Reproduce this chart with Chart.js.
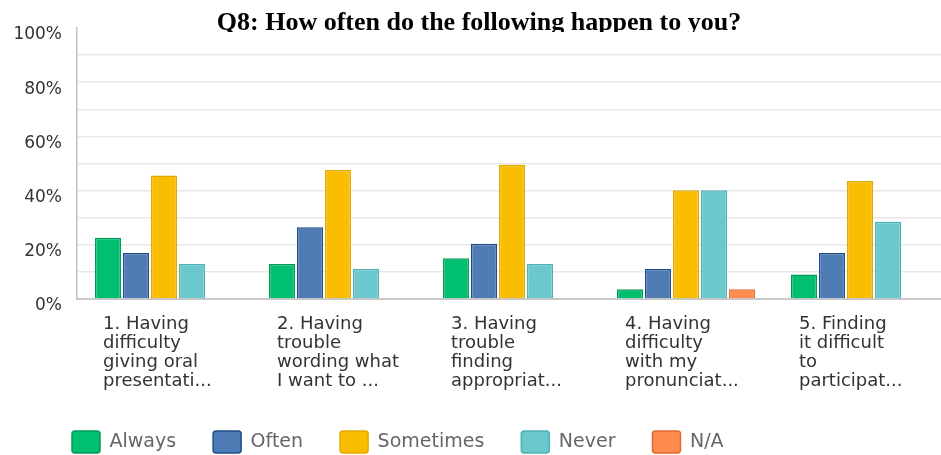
<!DOCTYPE html>
<html>
<head>
<meta charset="utf-8">
<script src="https://cdn.jsdelivr.net/npm/chart.js@4.4.1/dist/chart.umd.min.js"></script>
<style>
  html, body { margin: 0; padding: 0; background: #fff; overflow: hidden; }
  #wrap { position: relative; width: 947px; height: 455px; }
</style>
</head>
<body>
<div id="wrap"><canvas id="graph1"></canvas></div>
<script>
const titleText = 'Q8: How often do the following happen to you?';

const categories = [
    ['1. Having', 'difficulty', 'giving oral', 'presentati...'],
    ['2. Having', 'trouble', 'wording what', 'I want to ...'],
    ['3. Having', 'trouble', 'finding', 'appropriat...'],
    ['4. Having', 'difficulty', 'with my', 'pronunciat...'],
    ['5. Finding', 'it difficult', 'to', 'participat...']
];

const always = [22.6, 12.9, 15.0, 3.6, 9.0];
const often = [17.0, 26.5, 20.4, 11.1, 17.0];
const sometimes = [45.6, 47.6, 49.5, 40.1, 43.5];
const never = [12.9, 11.1, 12.9, 40.1, 28.5];
const na = [0, 0, 0, 3.6, 0];

const yTicks = [0, 20, 40, 60, 80, 100];

// title sits on top of the plot, cut off at the bottom like the original
const titleDraw = {
    id: 'titleDraw',
    afterLayout(chart) {
        // legend starts a bit right of the canvas edge
        chart.legend.left = 35;
    },
    afterDraw(chart) {
        const ctx = chart.ctx;
        ctx.save();
        ctx.beginPath();
        ctx.rect(0, 0, chart.width, 32);
        ctx.clip();
        ctx.font = 'bold 26px "Liberation Serif", "Times New Roman", serif';
        ctx.fillStyle = '#000';
        ctx.textAlign = 'center';
        ctx.textBaseline = 'alphabetic';
        ctx.fillText(titleText, 479, 30);
        ctx.restore();
    }
};

function set(label, data, bg, border) {
    return {
        label: label,
        data: data,
        backgroundColor: bg,
        borderColor: border,
        borderWidth: 1.5,
        categoryPercentage: 0.805,
        barPercentage: 0.93
    };
}

new Chart(document.getElementById('graph1'), {
    type: 'bar',
    data: {
        labels: categories,
        datasets: [
            set('Always', always, '#00BF6F', '#009a58'),
            set('Often', often, '#507CB6', '#1f4d8c'),
            set('Sometimes', sometimes, '#F9BE00', '#e2aa00'),
            set('Never', never, '#6BC8CD', '#4db2b7'),
            set('N/A', na, '#FF8B4F', '#e0692c')
        ]
    },
    plugins: [titleDraw],
    options: {
        responsive: true,
        maintainAspectRatio: false,
        animation: false,
        layout: {
            padding: { left: 2, right: 0, top: 28, bottom: 0 }
        },
        scales: {
            x: {
                grid: { display: false, drawTicks: false },
                border: { display: true, color: '#c8c8c8', width: 2 },
                ticks: {
                    align: 'start',
                    labelOffset: -61,
                    padding: 16,
                    maxRotation: 0,
                    autoSkip: false,
                    color: '#333',
                    font: { family: '"DejaVu Sans", sans-serif', size: 18, lineHeight: '19px' }
                },
                afterFit(axis) {
                    axis.height = 95;
                    axis.paddingLeft = 0;
                    axis.paddingRight = 0;
                }
            },
            y: {
                min: 0,
                max: 100,
                grid: {
                    drawTicks: false,
                    lineWidth: 1.5,
                    color: (c) => (c.tick && c.tick.value === 100) ? 'rgba(0,0,0,0)' : '#e8e8e8'
                },
                border: { display: true, color: '#c4c4c4', width: 1.5 },
                ticks: {
                    stepSize: 10,
                    padding: 15,
                    labelOffset: 7,
                    color: '#333',
                    font: { family: '"DejaVu Sans", sans-serif', size: 17 },
                    callback: (v) => yTicks.includes(v) ? v + '%' : ''
                },
                afterFit(axis) {
                    axis.width = 75;
                    axis.paddingTop = 0;
                    axis.paddingBottom = 0;
                }
            }
        },
        plugins: {
            legend: {
                position: 'bottom',
                align: 'start',
                maxHeight: 61,
                labels: {
                    boxWidth: 28,
                    boxHeight: 22,
                    padding: 37,
                    useBorderRadius: true,
                    borderRadius: 3,
                    color: '#666',
                    font: { family: '"DejaVu Sans", sans-serif', size: 19 }
                }
            },
            tooltip: { enabled: false }
        }
    }
});
</script>
</body>
</html>
